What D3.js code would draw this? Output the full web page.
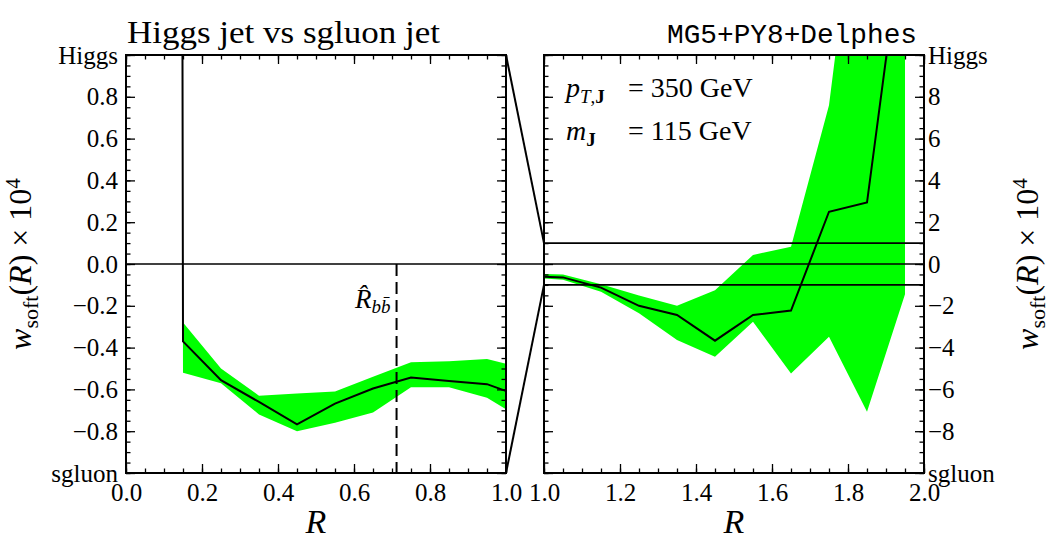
<!DOCTYPE html>
<html><head><meta charset="utf-8">
<script src="https://cdn.jsdelivr.net/npm/d3@7"></script>
<style>body{margin:0;background:#fff;}</style>
</head><body>
<svg id="c" width="1050" height="552"></svg>
<script>
// ---- data ----
const R          = [0.05, 0.15, 0.25, 0.35, 0.45, 0.55, 0.65, 0.75, 0.85, 0.95, 1.05, 1.15, 1.25, 1.35, 1.45, 1.55, 1.65, 1.75, 1.85, 1.95];
const wsoft      = [100, -0.37, -0.556, -0.66, -0.767, -0.668, -0.596, -0.543, -0.56, -0.575, -0.64, -1.13, -2.0, -2.44, -3.67, -2.44, -2.23, 2.5, 2.94, 16.7];
const bandUpper  = [110, -0.28, -0.50, -0.63, -0.62, -0.61, -0.54, -0.47, -0.465, -0.455, -0.5, -0.97, -1.51, -2.0, -1.25, 0.43, 0.83, 7.6, 22, 25];
const bandLower  = [90, -0.52, -0.57, -0.72, -0.80, -0.76, -0.71, -0.59, -0.59, -0.64, -0.75, -1.33, -2.36, -3.64, -4.44, -2.76, -5.24, -3.48, -7.07, -1.45];
const Rbb = 0.712;

const leftYTicks   = [-1, -0.8, -0.6, -0.4, -0.2, 0, 0.2, 0.4, 0.6, 0.8, 1];
const leftYLabels  = ["sgluon", "\u22120.8", "\u22120.6", "\u22120.4", "\u22120.2", "0.0", "0.2", "0.4", "0.6", "0.8", "Higgs"];
const rightYTicks  = [-10, -8, -6, -4, -2, 0, 2, 4, 6, 8, 10];
const rightYLabels = ["sgluon", "\u22128", "\u22126", "\u22124", "\u22122", "0", "2", "4", "6", "8", "Higgs"];
const leftXTicks   = [0, 0.2, 0.4, 0.6, 0.8, 1.0];
const leftXLabels  = ["0.0", "0.2", "0.4", "0.6", "0.8", "1.0"];
const rightXTicks  = [1.0, 1.2, 1.4, 1.6, 1.8, 2.0];
const rightXLabels = ["1.0", "1.2", "1.4", "1.6", "1.8", "2.0"];

const pts = R.map((r, i) => ({r, w: wsoft[i], lo: bandLower[i], hi: bandUpper[i]}));

// ---- layout ----
const SERIF = "'Liberation Serif', 'Times New Roman', serif";
const MONO = "'Liberation Mono', 'DejaVu Sans Mono', monospace";
const svg = d3.select("#c");
const yTop = 55, yBot = 473;
const L = {x0: 126, x1: 506}, Rp = {x0: 544, x1: 924};

const xL = d3.scaleLinear().domain([0, 1]).range([L.x0, L.x1]);
const yL = d3.scaleLinear().domain([-1, 1]).range([yBot, yTop]);
const xR = d3.scaleLinear().domain([1, 2]).range([Rp.x0, Rp.x1]);
const yR = d3.scaleLinear().domain([-10, 10]).range([yBot, yTop]);

function txt(x, y, size) {
  return svg.append("text").attr("x", x).attr("y", y).attr("font-size", size)
    .style("font-family", SERIF).attr("fill", "#000");
}

const defs = svg.append("defs");
defs.append("clipPath").attr("id", "clipL").append("rect")
  .attr("x", L.x0).attr("y", yTop).attr("width", L.x1 - L.x0).attr("height", yBot - yTop);
defs.append("clipPath").attr("id", "clipR").append("rect")
  .attr("x", Rp.x0).attr("y", yTop).attr("width", Rp.x1 - Rp.x0).attr("height", yBot - yTop);

function panel(x, y, clipId, xTicks, xLabels, yTicks, yLabels, ySide) {
  const g = svg.append("g");
  const c = g.append("g").attr("clip-path", `url(#${clipId})`);
  c.append("path").datum(pts)
    .attr("d", d3.area().x(d => x(d.r)).y0(d => y(d.lo)).y1(d => y(d.hi)))
    .attr("fill", "#00ff00");
  c.append("path").datum(pts)
    .attr("d", d3.line().x(d => x(d.r)).y(d => y(d.w)))
    .attr("fill", "none").attr("stroke", "#000").attr("stroke-width", 2);

  const [xa, xb] = x.domain(), [ya, yb] = y.domain();
  const xMinor = d3.range(0, 21).map(i => xa + (xb - xa) * i / 20);
  const yMinor = d3.range(0, 41).map(i => ya + (yb - ya) * i / 40);
  const [X0, X1] = x.range(), [Y1, Y0] = y.range();

  const axes = [
    [d3.axisBottom(x).tickValues(xTicks).tickFormat((d, i) => xLabels[i]), `translate(0,${Y1})`, 9, 10],
    [d3.axisBottom(x).tickValues(xMinor).tickFormat(""), `translate(0,${Y1})`, 4.5, 0],
    [d3.axisTop(x).tickValues(xTicks).tickFormat(""), `translate(0,${Y0})`, 9, 0],
    [d3.axisTop(x).tickValues(xMinor).tickFormat(""), `translate(0,${Y0})`, 4.5, 0],
    [(ySide === "left" ? d3.axisLeft(y).tickValues(yTicks).tickFormat((d, i) => yLabels[i]) : d3.axisLeft(y).tickValues(yTicks).tickFormat("")), `translate(${X0},0)`, 9, 8],
    [d3.axisLeft(y).tickValues(yMinor).tickFormat(""), `translate(${X0},0)`, 4.5, 0],
    [(ySide === "right" ? d3.axisRight(y).tickValues(yTicks).tickFormat((d, i) => yLabels[i]) : d3.axisRight(y).tickValues(yTicks).tickFormat("")), `translate(${X1},0)`, 9, 4],
    [d3.axisRight(y).tickValues(yMinor).tickFormat(""), `translate(${X1},0)`, 4.5, 0],
  ];
  axes.forEach(([ax, tr, len, pad]) => {
    const a = g.append("g").attr("transform", tr)
      .call(ax.tickSizeInner(-len).tickSizeOuter(0).tickPadding(pad));
    a.select(".domain").remove();
    a.selectAll("line").attr("stroke", "#000").attr("stroke-width", 1.3);
    a.selectAll("text").style("font-family", SERIF).attr("font-size", 25).attr("fill", "#000");
  });
  g.append("rect").attr("x", X0).attr("y", Y0).attr("width", X1 - X0).attr("height", Y1 - Y0)
    .attr("fill", "none").attr("stroke", "#000").attr("stroke-width", 2);
  return c;
}

panel(xL, yL, "clipL", leftXTicks, leftXLabels, leftYTicks, leftYLabels, "left");
panel(xR, yR, "clipR", rightXTicks, rightXLabels, rightYTicks, rightYLabels, "right");

// reference lines
svg.append("line").attr("x1", xL(0)).attr("x2", xR(2)).attr("y1", yL(0)).attr("y2", yL(0))
  .attr("stroke", "#000").attr("stroke-width", 1.6);
[1, -1].forEach(v => {
  svg.append("line").attr("x1", xR(1)).attr("x2", xR(2)).attr("y1", yR(v)).attr("y2", yR(v))
    .attr("stroke", "#000").attr("stroke-width", 1.6);
  svg.append("line").attr("x1", xL(1)).attr("y1", yL(v)).attr("x2", xR(1)).attr("y2", yR(v))
    .attr("stroke", "#000").attr("stroke-width", 2);
});
svg.append("line").attr("x1", xL(Rbb)).attr("x2", xL(Rbb)).attr("y1", yL(0)).attr("y2", yL(-1))
  .attr("stroke", "#000").attr("stroke-width", 2).attr("stroke-dasharray", "12,6");

const rbb = txt(355, 308, 27);
rbb.append("tspan").attr("font-style", "italic").text("R\u0302");
rbb.append("tspan").attr("font-style", "italic").attr("font-size", 19).attr("dy", 5).text("bb\u0304");

// titles
txt(127, 43, 32).attr("textLength", 313).attr("lengthAdjust", "spacingAndGlyphs").text("Higgs jet vs sgluon jet");
svg.append("text").attr("x", 667).attr("y", 43).attr("font-size", 28).attr("fill", "#000")
  .style("font-family", MONO)
  .attr("textLength", 250).attr("lengthAdjust", "spacingAndGlyphs").text("MG5+PY8+Delphes");

// annotations
const t1 = txt(566, 97, 28);
t1.append("tspan").attr("font-style", "italic").text("p");
t1.append("tspan").attr("font-size", 19).attr("dy", 6).attr("font-style", "italic").text("T");
t1.append("tspan").attr("font-size", 19).text(",");
t1.append("tspan").attr("font-size", 19).attr("font-weight", "bold").text("J");
txt(628, 97, 28).text("= 350 GeV");
const t2 = txt(566, 140, 28);
t2.append("tspan").attr("font-style", "italic").text("m");
t2.append("tspan").attr("font-size", 19).attr("dy", 6).attr("font-weight", "bold").text("J");
txt(628, 140, 28).text("= 115 GeV");

// axis titles
function ylab(x) {
  const t = svg.append("text").attr("transform", `translate(${x},264) rotate(-90)`)
    .attr("text-anchor", "middle").attr("font-size", 32).style("font-family", SERIF).attr("fill", "#000");
  t.append("tspan").attr("font-style", "italic").text("w");
  t.append("tspan").attr("font-size", 22).attr("dy", 7).text("soft");
  t.append("tspan").attr("dy", -7).text("(");
  t.append("tspan").attr("font-style", "italic").text("R");
  t.append("tspan").text(") \u00d7 10");
  t.append("tspan").attr("font-size", 21).attr("dy", -11).text("4");
}
ylab(31);
ylab(1038);
[xL(0.5), xR(1.5)].forEach(cx => {
  txt(cx, 533, 34).attr("text-anchor", "middle").attr("font-style", "italic").text("R");
});
</script>
</body></html>
